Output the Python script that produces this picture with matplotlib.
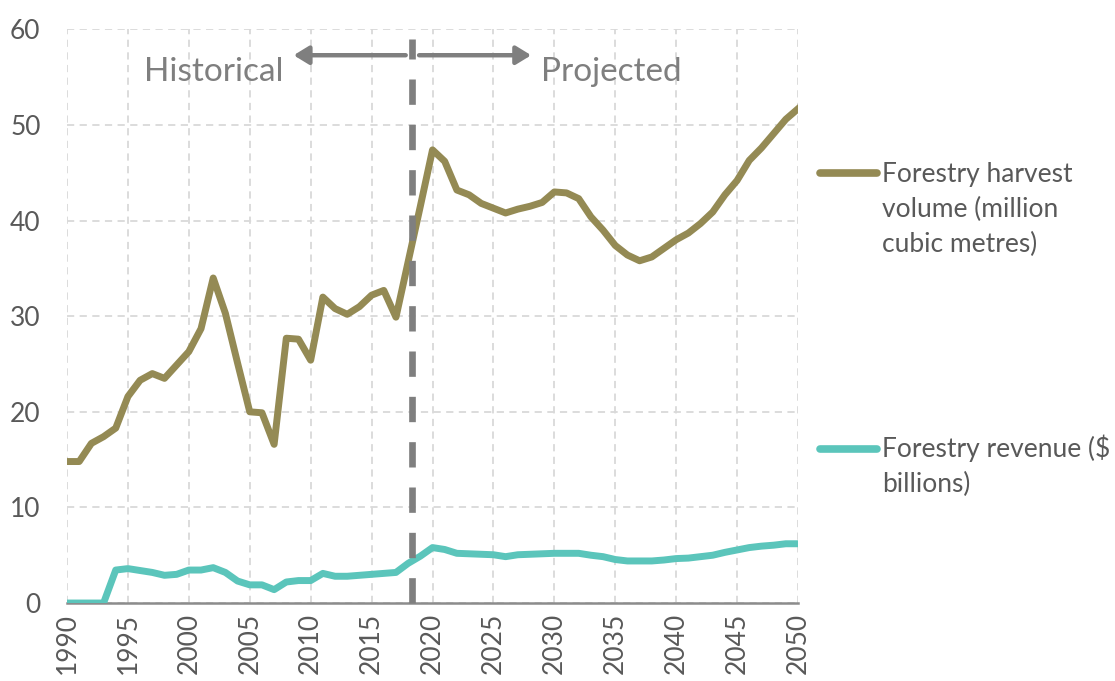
import matplotlib
matplotlib.use("Agg")
import matplotlib.pyplot as plt
from matplotlib.lines import Line2D

plt.rcParams['font.family'] = ['Lato', 'DejaVu Sans']

years = list(range(1990, 2051))

# forestry harvest volume (million cubic metres)
harvest = [14.8, 14.8, 16.7, 17.4, 18.3, 21.6, 23.3, 24.0, 23.5, 24.9,
           26.3, 28.7, 34.0, 30.3, 25.1, 20.0, 19.9, 16.6, 27.7, 27.6,
           25.4, 32.0, 30.8, 30.2, 31.0, 32.2, 32.7, 29.9, 35.7, 41.5,
           47.4, 46.2, 43.2, 42.7, 41.8, 41.3, 40.8, 41.2, 41.5, 41.9,
           43.0, 42.9, 42.3, 40.4, 39.0, 37.4, 36.4, 35.8, 36.2, 37.1,
           38.0, 38.7, 39.7, 40.9, 42.7, 44.2, 46.3, 47.6, 49.1, 50.6,
           51.7]

# forestry revenue ($ billions)
revenue = [0.0, 0.0, 0.0, 0.0, 3.45, 3.6, 3.4, 3.2, 2.9, 3.0,
           3.45, 3.45, 3.7, 3.2, 2.3, 1.9, 1.9, 1.4, 2.2, 2.35,
           2.35, 3.1, 2.8, 2.8, 2.9, 3.0, 3.1, 3.2, 4.15, 4.9,
           5.8, 5.6, 5.2, 5.15, 5.1, 5.05, 4.85, 5.05, 5.1, 5.15,
           5.2, 5.2, 5.2, 5.0, 4.85, 4.55, 4.4, 4.4, 4.4, 4.5,
           4.65, 4.7, 4.85, 5.0, 5.3, 5.55, 5.8, 5.95, 6.05, 6.2,
           6.2]

labels = ['Forestry harvest\nvolume (million\ncubic metres)',
          'Forestry revenue ($\nbillions)']
colors = ['#948A54', '#5BC5BB']
divider = 2018.3

fig = plt.figure(figsize=(11.15, 6.81), dpi=100)
ax = fig.add_axes([0.0601, 0.1145, 0.6556, 0.8423])

ax.plot(years, harvest, color=colors[0], lw=5, solid_joinstyle='round')
ax.plot(years, revenue, color=colors[1], lw=5, solid_joinstyle='round')

ax.set_xlim(1990, 2050)
ax.set_ylim(0, 60)
ax.set_xticks(range(1990, 2051, 5))
ax.set_yticks(range(0, 61, 10))
ax.tick_params(axis='x', rotation=90, length=0, pad=7, labelsize=19, colors='#595959')
ax.tick_params(axis='y', length=0, pad=19, labelsize=19, colors='#595959')

ax.grid(True, color='#d9d9d9', ls=(0, (4, 3)), lw=1.3)
ax.set_axisbelow(True)
for s in ['top', 'right', 'left']:
    ax.spines[s].set_visible(False)
ax.spines['bottom'].set_color('#8c8c8c')
ax.spines['bottom'].set_linewidth(1.8)
ax.spines['bottom'].set_zorder(1)

# historical / projected divider
ax.plot([divider, divider], [0, 59], color='#7f7f7f', lw=4.8,
        ls=(0, (3.8, 3.0)), zorder=4, clip_on=False)

arrow = dict(arrowstyle='-|>,head_length=0.9,head_width=0.55', color='#7f7f7f', lw=3.2,
             shrinkA=0, shrinkB=0)
ax.annotate('', xy=(2008.6, 57.3), xytext=(2017.8, 57.3), arrowprops=arrow)
ax.annotate('', xy=(2028.1, 57.3), xytext=(2018.9, 57.3), arrowprops=arrow)
ax.text(1996.3, 54.6, 'Historical', fontsize=24, color='#7f7f7f', ha='left', va='baseline')
ax.text(2028.9, 54.6, 'Projected', fontsize=24, color='#7f7f7f', ha='left', va='baseline')

# legend keys on the right, handle next to first text line
key_y = [172.7, 449]
first_baseline = [183, 458]
line_step = 34.5
for lab, c, ky, ty in zip(labels, colors, key_y, first_baseline):
    yf = 1 - ky / 681
    fig.add_artist(Line2D([820 / 1115, 877 / 1115], [yf, yf], color=c, lw=5.5,
                          solid_capstyle='round'))
    n = lab.count('\n')
    fig.text(882 / 1115, 1 - (ty + n * line_step) / 681, lab, fontsize=19,
             color='#595959', ha='left', va='baseline', linespacing=1.5)

fig.savefig('out.png', dpi=100)
